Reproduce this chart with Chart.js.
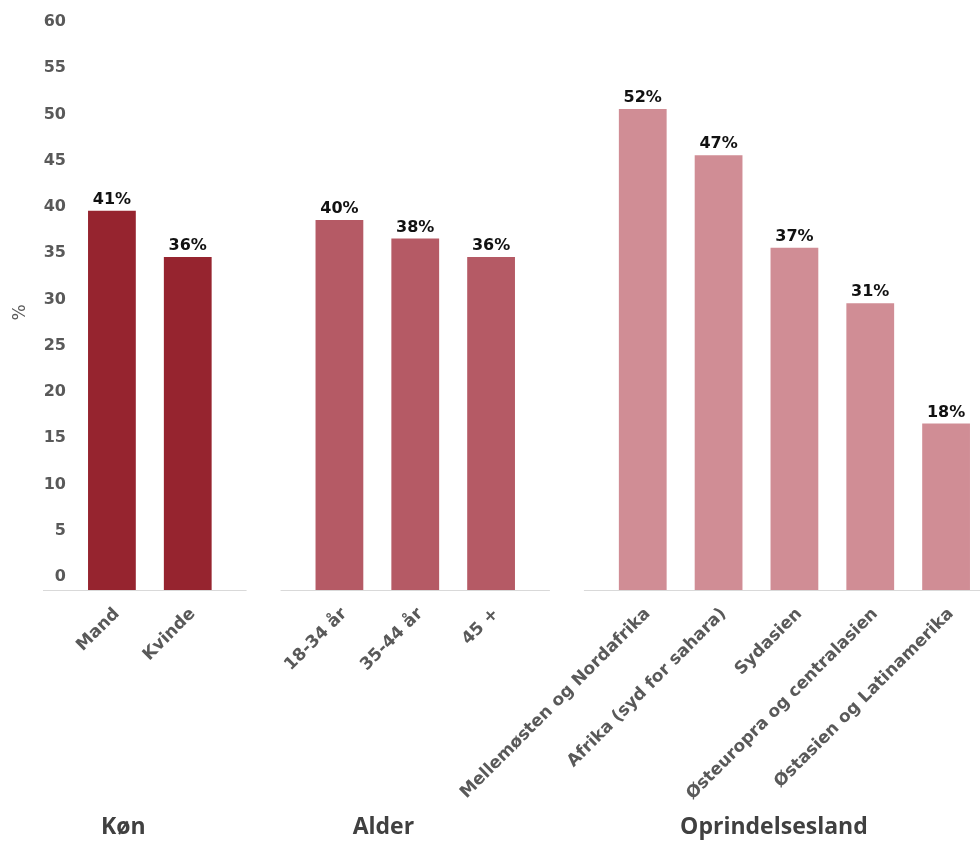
<!DOCTYPE html>
<html>
<head>
<meta charset="utf-8">
<script src="https://cdn.jsdelivr.net/npm/chart.js@4"></script>
<style>
  html, body { margin: 0; padding: 0; background: #fff; overflow: hidden; }
  #wrap { width: 984px; height: 841px; }
</style>
</head>
<body>
<div id="wrap"><canvas id="chart" width="984" height="841"></canvas></div>
<script>
// categories (empty slots separate the groups)
const categories = [
  "Mand", "Kvinde", "",
  "18-34 år", "35-44 år", "45 +", "",
  "Mellemøsten og Nordafrika", "Afrika (syd for sahara)", "Sydasien",
  "Østeuropra og centralasien", "Østasien og Latinamerika"
];
const values = [41, 36, null, 40, 38, 36, null, 52, 47, 37, 31, 18];
const barColors = [
  "#96242f", "#96242f", "#fff",
  "#b55a65", "#b55a65", "#b55a65", "#fff",
  "#d08d95", "#d08d95", "#d08d95", "#d08d95", "#d08d95"
];
const groupNames = ["Køn", "Alder", "Oprindelsesland"];
const groupPos = [0.15, 3.58, 8.73];   // label centre, in category units
const gapSlots = [2, 6];                // empty slots where the axis line breaks
const yTicks = [0, 60, 5];              // min, max, step

const FONT = "'DejaVu Sans', sans-serif";
const GFONT = "'Open Sans', sans-serif";

const extras = {
  id: "extras",
  afterDatasetsDraw(chart) {
    const { ctx, scales: { x, y }, chartArea } = chart;
    const base = y.getPixelForValue(0) + 0.5;

    // broken baseline
    ctx.save();
    ctx.strokeStyle = "#d9d9d9";
    ctx.lineWidth = 1;
    let start = chartArea.left - 31;
    const stops = gapSlots.map(i => x.getPixelForValue(i));
    stops.push(chart.width + 20);
    stops.forEach((c, i) => {
      const end = i < gapSlots.length ? c - 17 : c;
      ctx.beginPath();
      ctx.moveTo(start, base);
      ctx.lineTo(end, base);
      ctx.stroke();
      start = c + 17;
    });

    // value labels
    ctx.fillStyle = "#111";
    ctx.font = "bold 16px " + FONT;
    ctx.textAlign = "center";
    ctx.textBaseline = "bottom";
    const meta = chart.getDatasetMeta(0);
    meta.data.forEach((bar, i) => {
      if (values[i] == null) return;
      ctx.fillText(values[i] + "%", bar.x, bar.y - 3);
    });

    // group names
    ctx.fillStyle = "#404040";
    ctx.font = "bold 23px " + GFONT;
    ctx.textBaseline = "middle";
    groupNames.forEach((g, i) => {
      ctx.fillText(g, x.getPixelForValue(groupPos[i]), 827);
    });
    ctx.restore();
  }
};

new Chart(document.getElementById("chart"), {
  type: "bar",
  data: {
    labels: categories,
    datasets: [{
      data: values,
      backgroundColor: barColors,
      barPercentage: 0.63,
      categoryPercentage: 1
    }]
  },
  options: {
    responsive: false,
    animation: false,
    layout: { padding: { top: 35, right: 0, bottom: 0, left: 0 } },
    plugins: {
      legend: { display: false },
      tooltip: { enabled: false }
    },
    scales: {
      x: {
        grid: { display: false, drawTicks: false },
        border: { display: false },
        ticks: {
          minRotation: 45,
          maxRotation: 45,
          autoSkip: false,
          padding: 14,
          labelOffset: 5,
          color: "#595959",
          font: { family: FONT, size: 17, weight: "bold" }
        },
        afterFit: s => { s.height = 251; }
      },
      y: {
        min: yTicks[0],
        max: yTicks[1],
        grid: { display: false, drawTicks: false },
        border: { display: false },
        ticks: {
          stepSize: yTicks[2],
          padding: 8,
          labelOffset: -13,
          color: "#595959",
          font: { family: FONT, size: 16, weight: "bold" }
        },
        title: {
          display: true,
          text: "%",
          color: "#595959",
          padding: 10,
          font: { family: FONT, size: 17 }
        },
        afterFit: s => { s.width = 74; }
      }
    }
  },
  plugins: [extras]
});
</script>
</body>
</html>
